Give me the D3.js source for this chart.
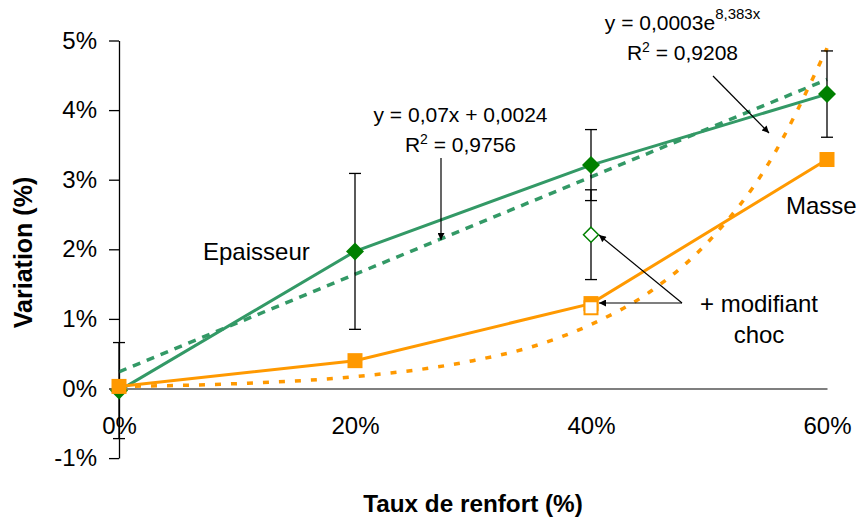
<!DOCTYPE html>
<html>
<head>
<meta charset="utf-8">
<script src="https://cdn.jsdelivr.net/npm/d3@7"></script>
<style>
  body { margin: 0; background: #fff; }
  svg { display: block; font-family: "Liberation Sans", Arial, sans-serif; }
</style>
</head>
<body>
<svg id="chart" width="862" height="520"></svg>
<script>
// ---- data (values in %) ----
const xCategories = [0, 0.2, 0.4, 0.6];
const xTickLabels = ["0%", "20%", "40%", "60%"];
const yTicks = [-1, 0, 1, 2, 3, 4, 5];

const epaisseurValues = [-0.03, 1.97, 3.21, 4.23];
const epaisseurErrors = [0.69, 1.12, 0.51, 0.62];
const masseValues = [0.03, 0.40, 1.22, 3.29];

const modifiantX = [0.4];
const modifiantEpaisseur = [2.21];
const modifiantEpaisseurErr = [0.645];
const modifiantMasse = [1.16];

// trend lines
const trendLinX = [0, 0.6];
const trendLinY = [0.24, 4.44];
const trendExpX = [0, 0.1, 0.2, 0.3, 0.35, 0.4, 0.45, 0.5, 0.55, 0.6];
const trendExpY = [0.03, 0.07, 0.17, 0.40, 0.60, 0.92, 1.39, 2.12, 3.22, 4.89];

// ---- chart ----
const svg = d3.select("#chart");
const x = d3.scaleLinear().domain([0, 0.6]).range([119, 827]);
const y = d3.scaleLinear().domain([-1, 5]).range([458.1, 40.5]);

const GREEN_LINE = "#339966", GREEN_MARK = "#008000", ORANGE = "#FF9900";

svg.append("defs").append("marker")
  .attr("id", "arrow").attr("viewBox", "0 0 10 10")
  .attr("refX", 10).attr("refY", 5)
  .attr("markerWidth", 9).attr("markerHeight", 7)
  .attr("markerUnits", "userSpaceOnUse")
  .attr("orient", "auto")
  .append("path").attr("d", "M0,0 L10,5 L0,10 z").attr("fill", "#000");

// x axis (line at 0 with labels below)
const xAxis = svg.append("g")
  .attr("transform", `translate(0,${y(0)})`)
  .call(d3.axisBottom(x).tickValues(xCategories)
    .tickFormat((d, i) => xTickLabels[i]).tickSize(0).tickPadding(28.5));
xAxis.select(".domain").attr("stroke", "#555").attr("stroke-width", 1.3);
xAxis.selectAll("text").attr("font-size", 24).attr("fill", "#000")
  .attr("font-family", "Liberation Sans, Arial, sans-serif");

// y axis
const yAxis = svg.append("g")
  .attr("transform", `translate(${x(0)},0)`)
  .call(d3.axisLeft(y).tickValues(yTicks).tickFormat(d => d + "%")
    .tickSize(10).tickSizeOuter(0).tickPadding(12));
yAxis.select(".domain").attr("stroke", "#000").attr("stroke-width", 1.3);
yAxis.selectAll(".tick line").attr("stroke", "#000").attr("stroke-width", 1.3);
yAxis.selectAll("text").attr("font-size", 24).attr("fill", "#000")
  .attr("font-family", "Liberation Sans, Arial, sans-serif");

// axis titles
svg.append("text").attr("x", 473).attr("y", 512)
  .attr("text-anchor", "middle").attr("font-size", 24.3).attr("font-weight", "bold")
  .text("Taux de renfort (%)");
svg.append("text").attr("transform", "translate(32,252.5) rotate(-90)")
  .attr("text-anchor", "middle").attr("font-size", 25).attr("font-weight", "bold")
  .text("Variation (%)");

// trend lines
const lineGen = d3.line().x(d => x(d[0])).y(d => y(d[1]));
svg.append("path").datum(d3.zip(trendLinX, trendLinY))
  .attr("d", lineGen).attr("fill", "none")
  .attr("stroke", GREEN_LINE).attr("stroke-width", 3.5)
  .attr("stroke-dasharray", "8,7");
svg.append("path").datum(d3.zip(trendExpX, trendExpY))
  .attr("d", d3.line().x(d => x(d[0])).y(d => y(d[1])).curve(d3.curveMonotoneX))
  .attr("fill", "none")
  .attr("stroke", ORANGE).attr("stroke-width", 3.5)
  .attr("stroke-dasharray", "6,10");

// series lines
svg.append("path").datum(d3.zip(xCategories, epaisseurValues))
  .attr("d", lineGen).attr("fill", "none")
  .attr("stroke", GREEN_LINE).attr("stroke-width", 3);
svg.append("path").datum(d3.zip(xCategories, masseValues))
  .attr("d", lineGen).attr("fill", "none")
  .attr("stroke", ORANGE).attr("stroke-width", 3);

// error bars
function errorBar(cx, v, e) {
  const g = svg.append("g").attr("stroke", "#000").attr("stroke-width", 1.3);
  g.append("line").attr("x1", x(cx)).attr("x2", x(cx)).attr("y1", y(v + e)).attr("y2", y(v - e));
  g.append("line").attr("x1", x(cx) - 6).attr("x2", x(cx) + 6).attr("y1", y(v + e)).attr("y2", y(v + e));
  g.append("line").attr("x1", x(cx) - 6).attr("x2", x(cx) + 6).attr("y1", y(v - e)).attr("y2", y(v - e));
}
xCategories.forEach((c, i) => errorBar(c, epaisseurValues[i], epaisseurErrors[i]));
modifiantX.forEach((c, i) => errorBar(c, modifiantEpaisseur[i], modifiantEpaisseurErr[i]));

// markers
const diamond = d3.symbol().type(d3.symbolDiamond2);
svg.selectAll(".dEp").data(d3.zip(xCategories, epaisseurValues)).enter()
  .append("path")
  .attr("transform", d => `translate(${x(d[0])},${y(d[1])})`)
  .attr("d", "M0,-9 L9,0 L0,9 L-9,0 Z")
  .attr("fill", GREEN_MARK);
svg.selectAll(".sMa").data(d3.zip(xCategories, masseValues)).enter()
  .append("rect")
  .attr("x", d => x(d[0]) - 7.5).attr("y", d => y(d[1]) - 7.5)
  .attr("width", 15).attr("height", 15)
  .attr("fill", ORANGE);
svg.selectAll(".dMod").data(d3.zip(modifiantX, modifiantEpaisseur)).enter()
  .append("path")
  .attr("transform", d => `translate(${x(d[0])},${y(d[1])})`)
  .attr("d", "M0,-7.5 L7.5,0 L0,7.5 L-7.5,0 Z")
  .attr("fill", "#fff").attr("stroke", GREEN_MARK).attr("stroke-width", 1.5);
svg.selectAll(".sMod").data(d3.zip(modifiantX, modifiantMasse)).enter()
  .append("rect")
  .attr("x", d => x(d[0]) - 6.5).attr("y", d => y(d[1]) - 6.5)
  .attr("width", 13).attr("height", 13)
  .attr("fill", "#fff").attr("stroke", ORANGE).attr("stroke-width", 2);

// annotations
function arrow(x1, y1, x2, y2) {
  svg.append("line").attr("x1", x1).attr("y1", y1).attr("x2", x2).attr("y2", y2)
    .attr("stroke", "#000").attr("stroke-width", 1.2).attr("marker-end", "url(#arrow)");
}
arrow(441, 158, 441, 240);
arrow(713, 76, 769, 133);
arrow(682, 303, 599, 235);
arrow(682, 303, 599, 303);

function label(tx, ty, txt, anchor, size) {
  svg.append("text").attr("x", tx).attr("y", ty).attr("text-anchor", anchor || "start")
    .attr("font-size", size || 24).attr("fill", "#000").text(txt);
}
label(203, 260, "Epaisseur", "start", 24);
label(786, 214, "Masse", "start", 24);
label(759, 311.5, "+ modifiant", "middle", 24);
label(759, 343, "choc", "middle", 24);

// equation labels
const eq1 = svg.append("text").attr("x", 460.5).attr("y", 121.5)
  .attr("text-anchor", "middle").attr("font-size", 21);
eq1.append("tspan").text("y = 0,07x + 0,0024");
const r1 = svg.append("text").attr("x", 460.5).attr("y", 151.5)
  .attr("text-anchor", "middle").attr("font-size", 21);
r1.append("tspan").text("R");
r1.append("tspan").attr("font-size", 14).attr("dy", -8).text("2");
r1.append("tspan").attr("dy", 8).text(" = 0,9756");

const eq2 = svg.append("text").attr("x", 682.5).attr("y", 29.5)
  .attr("text-anchor", "middle").attr("font-size", 21);
eq2.append("tspan").text("y = 0,0003e");
eq2.append("tspan").attr("font-size", 15).attr("dy", -11).text("8,383x");
const r2 = svg.append("text").attr("x", 682.5).attr("y", 59.5)
  .attr("text-anchor", "middle").attr("font-size", 21);
r2.append("tspan").text("R");
r2.append("tspan").attr("font-size", 14).attr("dy", -8).text("2");
r2.append("tspan").attr("dy", 8).text(" = 0,9208");
</script>
</body>
</html>
